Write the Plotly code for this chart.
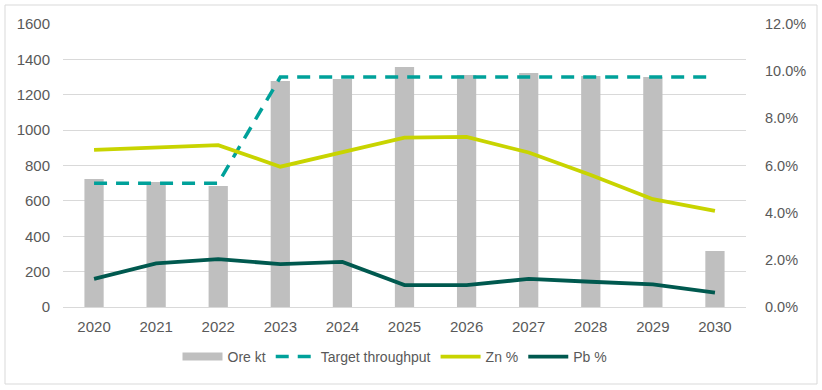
import plotly.graph_objects as go

years = ["2020", "2021", "2022", "2023", "2024", "2025", "2026", "2027", "2028", "2029", "2030"]
ore_kt = [723, 707, 684, 1278, 1289, 1357, 1312, 1323, 1306, 1300, 317]
target = [700, 700, 700, 1300, 1300, 1300, 1300, 1300, 1300, 1300, 1300]
zn_pct = [0.0666, 0.0676, 0.0686, 0.0595, 0.0657, 0.0718, 0.0721, 0.0655, 0.0560, 0.0457, 0.0408]
pb_pct = [0.0119, 0.0185, 0.0203, 0.0182, 0.0191, 0.0093, 0.0093, 0.0119, 0.0107, 0.0096, 0.0061]

left_ticks = [0, 200, 400, 600, 800, 1000, 1200, 1400, 1600]
right_ticks = [0, 0.02, 0.04, 0.06, 0.08, 0.10, 0.12]

W, H = 822, 390
L, R, T, B = 63, 76, 24, 83
pw, ph = W - L - R, H - T - B

font = "Liberation Sans, Arial, sans-serif"
txt = "#595959"
gray = "#BFBFBF"

fig = go.Figure()
fig.add_trace(go.Bar(x=years, y=ore_kt, name="Ore kt", marker_color=gray,
                     marker_line_width=0, width=0.31, yaxis="y", showlegend=False))
# legend-only entry to show the wide bar swatch
fig.add_trace(go.Scatter(x=[years[0]], y=[None], name="Ore kt", mode="lines",
                         line=dict(color=gray, width=8), yaxis="y"))
fig.add_trace(go.Scatter(x=years, y=target, name="Target throughput", mode="lines",
                         line=dict(color="#00A19A", width=3.5, dash="13px,9px"), yaxis="y"))
fig.add_trace(go.Scatter(x=years, y=zn_pct, name="Zn %", mode="lines",
                         line=dict(color="#C8D400", width=3.8), yaxis="y2"))
fig.add_trace(go.Scatter(x=years, y=pb_pct, name="Pb %", mode="lines",
                         line=dict(color="#00594F", width=3.8), yaxis="y2"))

def px_x(p):
    return (p - L) / pw

def px_y(p):
    return (H - B - p) / ph

fig.update_layout(
    width=W, height=H,
    margin=dict(l=L, r=R, t=T, b=B, autoexpand=False),
    paper_bgcolor="white", plot_bgcolor="white",
    font=dict(family=font, size=15, color=txt),
    xaxis=dict(type="category", showgrid=False, showline=True, linecolor="#D9D9D9",
               linewidth=1, ticks="outside", ticklen=6, tickcolor="rgba(0,0,0,0)",
               tickfont=dict(size=15, color=txt)),
    yaxis=dict(range=[0, 1600], tickvals=left_ticks, showgrid=True, gridcolor="#D9D9D9",
               gridwidth=1, zeroline=False, showline=False, ticks="",
               ticklabelstandoff=12, tickfont=dict(size=15, color=txt)),
    yaxis2=dict(range=[0, 0.12], tickvals=right_ticks, tickformat=".1%", overlaying="y",
                side="right", showgrid=False, zeroline=False, showline=False,
                ticks="", ticklabelstandoff=18,
                tickfont=dict(size=14.5, color=txt)),
    legend=dict(orientation="h", x=px_x(395), xanchor="center", y=px_y(357), yanchor="middle",
                font=dict(size=14, color=txt), traceorder="normal",
                itemwidth=40, bgcolor="rgba(0,0,0,0)"),
    shapes=[dict(type="rect", xref="paper", yref="paper",
                 x0=px_x(5), x1=px_x(817), y0=px_y(384), y1=px_y(5),
                 line=dict(color="#D9D9D9", width=1), fillcolor="rgba(0,0,0,0)", layer="below")],
)

fig.write_html("out.html", config={"displayModeBar": False},
               post_script="document.body.style.margin='0px';")
